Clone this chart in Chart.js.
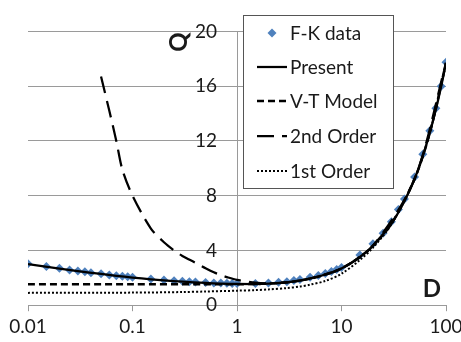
<!DOCTYPE html>
<html>
<head>
<meta charset="utf-8">
<script src="https://cdn.jsdelivr.net/npm/chart.js@4.4.0/dist/chart.umd.min.js"></script>
<style>
    html, body { margin: 0; padding: 0; background: #fff; overflow: hidden; }
    #wrap { width: 470px; height: 342px; }
</style>
</head>
<body>
<div id="wrap"><canvas id="q-chart"></canvas></div>
<script>
// -- data --
const xTicks = [0.01, 0.1, 1, 10, 100];
const yTicks = [0, 4, 8, 12, 16, 20];

const fkD = [0.01, 0.015, 0.02, 0.025, 0.03, 0.035, 0.04, 0.05, 0.06, 0.07, 0.08, 0.09, 0.1,
    0.15, 0.2, 0.25, 0.3, 0.35, 0.4, 0.5, 0.6, 0.7, 0.8, 0.9, 1,
    1.5, 2, 2.5, 3, 3.5, 4, 5, 6, 7, 8, 9, 10,
    15, 20, 25, 30, 35, 40, 50, 60, 70, 80, 90, 100];
const fkQ = [3.03, 2.82, 2.69, 2.58, 2.5, 2.44, 2.37, 2.29, 2.21, 2.16, 2.11, 2.07, 2.04,
    1.91, 1.84, 1.79, 1.75, 1.72, 1.7, 1.66, 1.63, 1.62, 1.6, 1.59, 1.58,
    1.58, 1.62, 1.67, 1.72, 1.8, 1.88, 2.04, 2.17, 2.31, 2.46, 2.61, 2.76,
    3.66, 4.48, 5.26, 6.09, 6.99, 7.75, 9.36, 11.03, 12.74, 14.39, 16.0, 17.74];

const presentD = [0.01, 0.02, 0.03, 0.05, 0.07, 0.1, 0.15, 0.2, 0.3, 0.5, 0.7, 1, 1.5, 2, 3, 4, 5, 7, 10,
    15, 20, 30, 40, 50, 60, 70, 80, 90, 100];
const presentQ = [3.0, 2.67, 2.49, 2.28, 2.15, 2.02, 1.89, 1.81, 1.72, 1.63, 1.58, 1.55, 1.54, 1.57, 1.67, 1.8, 1.95, 2.24, 2.68,
    3.52, 4.35, 5.95, 7.6, 9.22, 10.9, 12.6, 14.3, 16.0, 17.7];

const vtD = [0.01, 0.1, 0.5, 1, 1.5, 2, 3, 5, 7, 10, 15, 20, 30, 50, 70, 100];
const vtQ = [1.53, 1.53, 1.53, 1.53, 1.55, 1.58, 1.67, 1.93, 2.24, 2.68, 3.52, 4.35, 5.95, 9.22, 12.6, 17.7];

const secondD = [0.05, 0.06, 0.07, 0.08, 0.1, 0.15, 0.2, 0.25, 0.3, 0.4, 0.5, 0.6, 0.7, 0.8, 1, 1.5, 2,
    3, 5, 10, 20, 50, 100];
const secondQ = [16.7, 14.2, 12.0, 9.9, 8.0, 5.6, 4.6, 4.0, 3.6, 3.1, 2.7, 2.4, 2.2, 2.05, 1.85, 1.65, 1.6,
    1.67, 1.95, 2.68, 4.35, 9.22, 17.7];

const firstD = [0.01, 0.1, 0.3, 0.5, 1, 1.5, 2, 3, 4, 5, 7, 10, 15, 20, 30, 50, 70, 100];
const firstQ = [0.9, 0.92, 0.96, 1.0, 1.06, 1.1, 1.15, 1.25, 1.36, 1.5, 1.77, 2.3, 3.3, 4.2, 5.9, 9.2, 12.6, 17.65];

const seriesNames = ['F-K data', 'Present', 'V-T Model', '2nd Order', '1st Order'];

function toPoints(xs, ys) {
    return xs.map((x, i) => ({ x: x, y: ys[i] }));
}

const TEXT = '#1a1a1a';
const GRID = '#9a9a9a';
const FONT = 'Lato, "Open Sans", sans-serif';

// legend box + axis letters, drawn on top of the plot
const overlayPlugin = {
    id: 'overlay',
    afterDraw(chart) {
        const ctx = chart.ctx;
        const datasets = chart.data.datasets;
        ctx.save();

        // legend box
        ctx.fillStyle = '#fff';
        ctx.fillRect(243, 15, 150, 173);
        ctx.strokeStyle = '#555';
        ctx.lineWidth = 1;
        ctx.strokeRect(243.5, 15.5, 150, 173);

        const rowY = [33, 67, 101, 136, 171];
        ctx.font = '19px ' + FONT;
        ctx.textBaseline = 'middle';
        ctx.textAlign = 'left';
        for (let i = 0; i < datasets.length; i++) {
            const ds = datasets[i];
            const y = rowY[ds.legendRow];
            if (ds.showLine === false) {
                ctx.fillStyle = ds.pointBackgroundColor;
                ctx.beginPath();
                ctx.moveTo(272, y - 4.5);
                ctx.lineTo(276.5, y);
                ctx.lineTo(272, y + 4.5);
                ctx.lineTo(267.5, y);
                ctx.closePath();
                ctx.fill();
            } else {
                ctx.strokeStyle = ds.borderColor;
                ctx.lineWidth = ds.borderWidth;
                ctx.setLineDash(ds.borderDash || []);
                ctx.beginPath();
                ctx.moveTo(257, y);
                ctx.lineTo(287, y);
                ctx.stroke();
                ctx.setLineDash([]);
            }
            ctx.fillStyle = TEXT;
            ctx.fillText(ds.label, 290, y + 1);
        }

        // axis letters
        ctx.font = 'bold 24px ' + FONT;
        ctx.textAlign = 'center';
        ctx.fillText('D', 432, 289);
        ctx.translate(179, 42);
        ctx.rotate(-Math.PI / 2);
        ctx.fillText('Q', 0, 0);
        ctx.restore();
    }
};

new Chart(document.getElementById('q-chart'), {
    type: 'scatter',
    data: {
        datasets: [{
            label: seriesNames[1],
            legendRow: 1,
            data: toPoints(presentD, presentQ),
            showLine: true,
            borderColor: '#000',
            borderWidth: 2.25,
            pointRadius: 0,
            tension: 0.3,
            order: 1
        }, {
            label: seriesNames[2],
            legendRow: 2,
            data: toPoints(vtD, vtQ),
            showLine: true,
            borderColor: '#000',
            borderWidth: 2.5,
            borderDash: [7, 4],
            pointRadius: 0,
            tension: 0.3,
            order: 2
        }, {
            label: seriesNames[3],
            legendRow: 3,
            data: toPoints(secondD, secondQ),
            showLine: true,
            borderColor: '#000',
            borderWidth: 2.25,
            borderDash: [17, 8],
            pointRadius: 0,
            tension: 0.3,
            order: 3
        }, {
            label: seriesNames[4],
            legendRow: 4,
            data: toPoints(firstD, firstQ),
            showLine: true,
            borderColor: '#000',
            borderWidth: 2,
            borderDash: [2, 2],
            pointRadius: 0,
            tension: 0.3,
            order: 4
        }, {
            label: seriesNames[0],
            legendRow: 0,
            data: toPoints(fkD, fkQ),
            showLine: false,
            pointStyle: 'rectRot',
            pointRadius: 4.5,
            pointBorderWidth: 0,
            pointBackgroundColor: '#4f81bd',
            pointBorderColor: '#4f81bd',
            order: 5
        }]
    },
    options: {
        responsive: true,
        maintainAspectRatio: false,
        animation: false,
        layout: { padding: { left: 28, right: 24, top: 14, bottom: 0 } },
        plugins: {
            legend: { display: false },
            tooltip: { enabled: false }
        },
        scales: {
            x: {
                type: 'logarithmic',
                min: 0.01,
                max: 100,
                afterBuildTicks: function (axis) {
                    axis.ticks = xTicks.map(v => ({ value: v }));
                },
                ticks: {
                    autoSkip: false,
                    maxRotation: 0,
                    color: TEXT,
                    font: { family: FONT, size: 19 },
                    padding: 4,
                    callback: function (value) { return String(value); }
                },
                grid: { drawOnChartArea: false, drawTicks: true, tickLength: 6, color: GRID },
                border: { display: true, color: GRID }
            },
            y: {
                // D = 1 sits in the middle of the 0.01..100 log range
                position: 'center',
                axis: 'y',
                min: 0,
                max: 20,
                afterBuildTicks: function (axis) {
                    axis.ticks = yTicks.map(v => ({ value: v }));
                },
                ticks: {
                    color: TEXT,
                    font: { family: FONT, size: 19 },
                    padding: 20
                },
                grid: { drawTicks: false, color: GRID },
                border: { display: true, color: GRID }
            }
        }
    },
    plugins: [overlayPlugin]
});
</script>
</body>
</html>
